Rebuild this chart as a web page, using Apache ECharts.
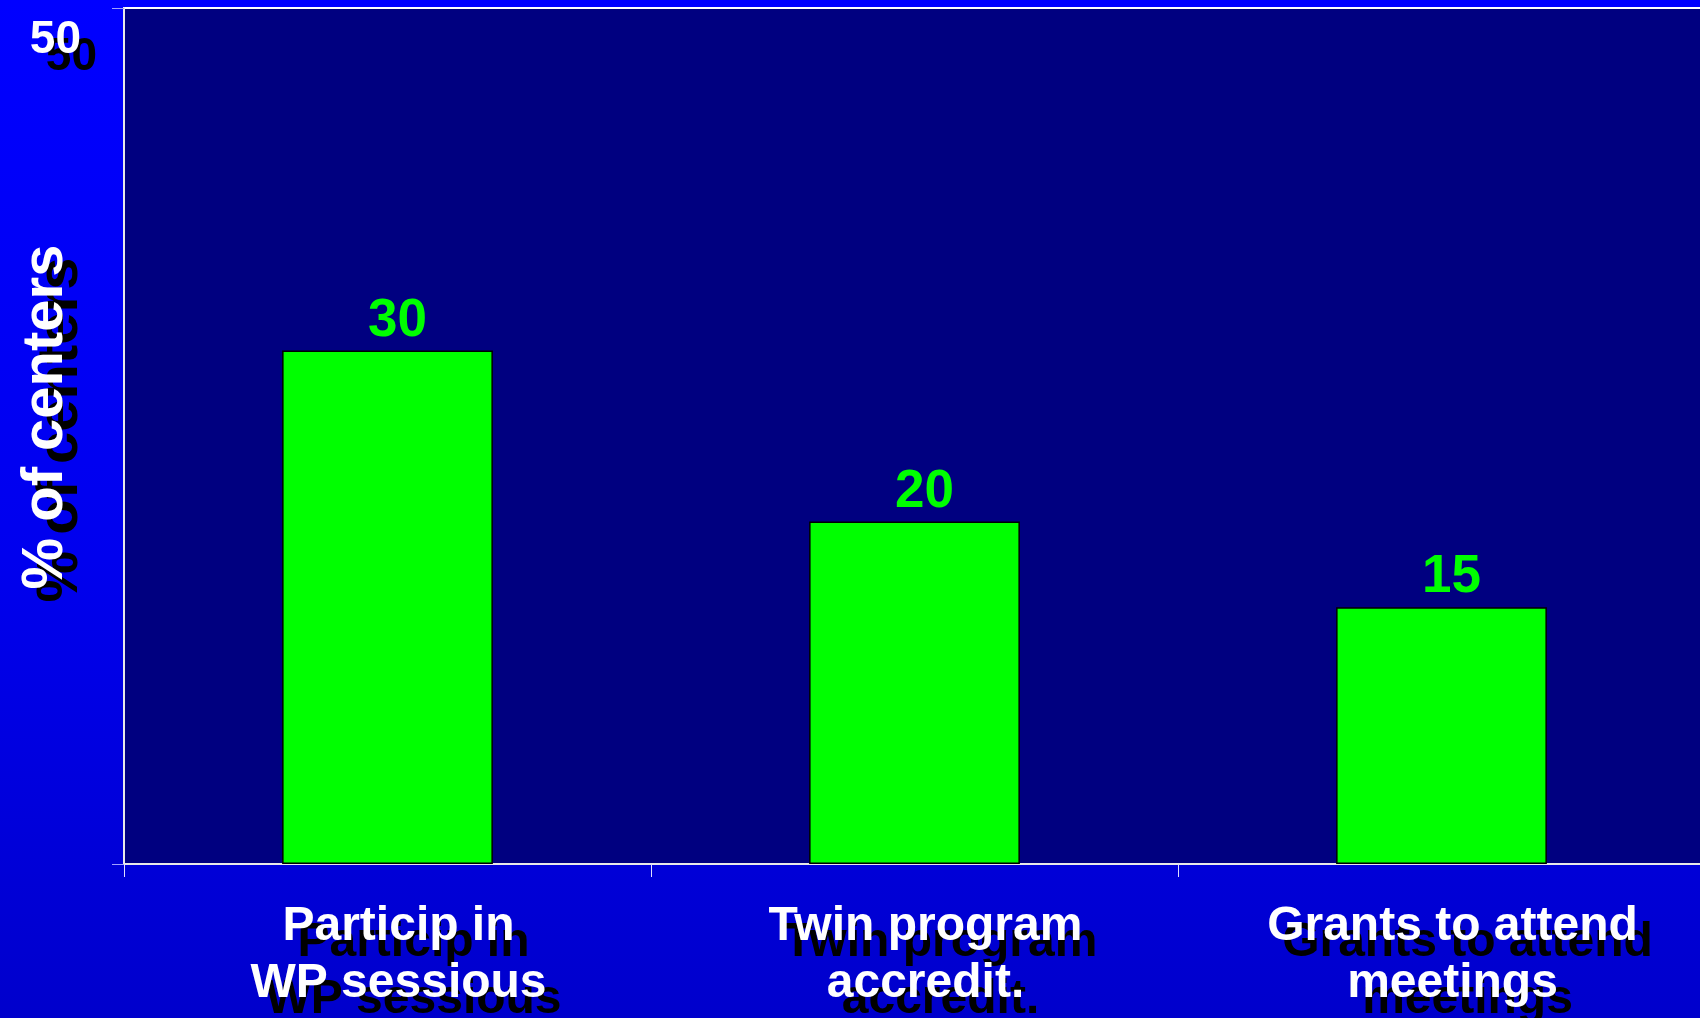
<!DOCTYPE html>
<html>
<head>
<meta charset="utf-8">
<script src="https://cdn.jsdelivr.net/npm/echarts@6/dist/echarts.min.js"></script>
<style>
html,body{margin:0;padding:0;width:1700px;height:1018px;overflow:hidden;}
#chart{width:1700px;height:1018px;}
</style>
</head>
<body>
<div id="chart"></div>
<script>
const categories = ['Particip in\nWP sessious', 'Twin program\naccredit.', 'Grants to attend\nmeetings'];
const values = [30, 20, 15];
const yTickLabels = ['50'];
const yAxisTitle = '% of centers';

const FONT = '"Liberation Sans", Arial, sans-serif';
const chart = echarts.init(document.getElementById('chart'), null, {renderer: 'canvas'});
chart.setOption({
  animation: false,
  backgroundColor: {
    type: 'linear', x: 0, y: 0, x2: 0, y2: 1,
    colorStops: [
      {offset: 0, color: '#0000FF'},
      {offset: 0.55, color: '#0000EE'},
      {offset: 1, color: '#0000CC'}
    ]
  },
  grid: {
    left: 124, top: 8, width: 1581, height: 856,
    outerBoundsMode: 'none', containLabel: false,
    show: true, backgroundColor: '#000080', borderColor: '#FFFFFF', borderWidth: 2
  },
  xAxis: {
    type: 'category',
    data: categories,
    axisLine: {show: true, lineStyle: {color: '#E8E8E8', width: 2}},
    axisTick: {show: true, alignWithLabel: false, length: 13, lineStyle: {color: '#E0E0FF', width: 1}},
    axisLabel: {
      interval: 0,
      margin: 34,
      color: '#FFFFFF',
      fontFamily: FONT, fontWeight: 'bold', fontSize: 48, lineHeight: 57,
      padding: [0, 0, 0, 22],
      textShadowColor: '#000000', textShadowOffsetX: 15, textShadowOffsetY: 16, textShadowBlur: 0.01
    },
    splitLine: {show: false}
  },
  yAxis: {
    type: 'value', min: 0, max: 50, interval: 50,
    name: yAxisTitle,
    nameLocation: 'middle', nameRotate: 90, nameGap: 49, nameMoveOverlap: false,
    nameTextStyle: {
      color: '#FFFFFF', fontFamily: FONT, fontWeight: 'bold', fontSize: 58,
      padding: [0, 0, 0, 38],
      textShadowColor: '#000000', textShadowOffsetX: 15, textShadowOffsetY: 13, textShadowBlur: 0.01
    },
    axisLine: {show: true, lineStyle: {color: '#E8E8E8', width: 2}},
    axisTick: {show: true, length: 12, lineStyle: {color: '#A0A0FF', width: 1}},
    splitLine: {show: false},
    axisLabel: {
      margin: 43,
      formatter: v => yTickLabels.includes(String(v)) ? String(v) : '',
      color: '#FFFFFF', fontFamily: FONT, fontWeight: 'bold', fontSize: 46, lineHeight: 64,
      verticalAlign: 'top',
      textShadowColor: '#000000', textShadowOffsetX: 16, textShadowOffsetY: 17, textShadowBlur: 0.01
    }
  },
  series: [{
    type: 'bar',
    data: values,
    barWidth: '40%',
    itemStyle: {color: '#00FF00', borderColor: '#000000', borderWidth: 1.5},
    label: {
      show: true, position: 'top', distance: 3, offset: [10, 0],
      color: '#00FF00', fontFamily: FONT, fontWeight: 'bold', fontSize: 53
    }
  }]
});
</script>
</body>
</html>
